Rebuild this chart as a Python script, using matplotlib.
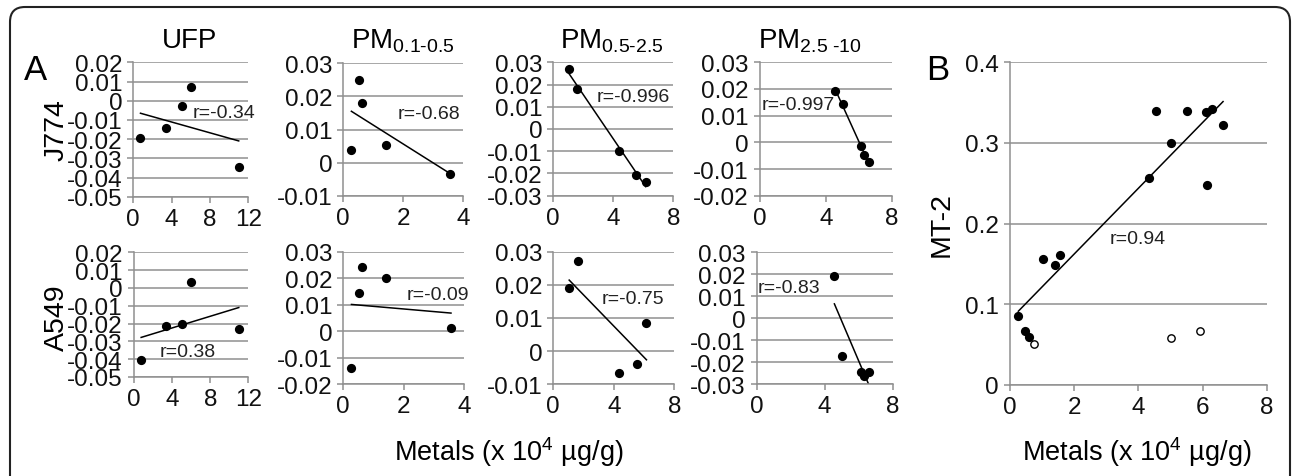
import numpy as np
import matplotlib
matplotlib.use('Agg')
import matplotlib.pyplot as plt
from matplotlib.patches import FancyBboxPatch
from matplotlib.ticker import FuncFormatter

plt.rcParams['font.family'] = ['Liberation Sans', 'DejaVu Sans']
plt.rcParams['mathtext.fontset'] = 'custom'
plt.rcParams['mathtext.rm'] = 'Liberation Sans'
plt.rcParams['mathtext.it'] = 'Liberation Sans:italic'

W, H = 1295, 477

# metals content (x 10^4 ug/g) per size fraction
ufp_x = [0.75, 3.38, 5.05, 6.0, 11.0]
pm01_x = [0.27, 0.51, 0.61, 1.42, 3.56]
pm05_x = [1.05, 1.6, 4.35, 5.52, 6.16]
pm25_x = [4.57, 5.03, 6.13, 6.31, 6.62]

# J774 response
j774_ufp = [-0.0193, -0.0144, -0.0029, 0.0071, -0.0347]
j774_pm01 = [0.0038, 0.0249, 0.0181, 0.0053, -0.0033]
j774_pm05 = [0.0269, 0.018, -0.0097, -0.0205, -0.0238]
j774_pm25 = [0.0193, 0.0145, -0.0014, -0.0049, -0.0073]

# A549 response
a549_ufp = [-0.0407, -0.0212, -0.0203, 0.0033, -0.0233]
a549_pm01 = [-0.014, 0.0143, 0.0241, 0.02, 0.0012]
a549_pm05 = [0.0189, 0.0273, -0.0067, -0.0039, 0.0084]
a549_pm25 = [0.0194, -0.0173, -0.0245, -0.026, -0.0242]

# panel B, MT-2
mt2_x = [0.26, 0.47, 0.58, 1.03, 1.39, 1.56, 4.34, 4.55, 5.02, 5.52, 6.12, 6.3, 6.15, 6.64]
mt2_y = [0.086, 0.067, 0.060, 0.156, 0.149, 0.161, 0.256, 0.340, 0.300, 0.340, 0.339, 0.342, 0.248, 0.322]
mt2_open_x = [0.76, 5.02, 5.92]
mt2_open_y = [0.051, 0.058, 0.067]

titles = ['UFP', r'PM$_{\mathrm{0.1\text{-}0.5}}$', r'PM$_{\mathrm{0.5\text{-}2.5}}$', r'PM$_{\mathrm{2.5\ \text{-}10}}$']
r_j774 = ['r=-0.34', 'r=-0.68', 'r=-0.996', 'r=-0.997']
r_a549 = ['r=0.38', 'r=-0.09', 'r=-0.75', 'r=-0.83']

GRID = '#8f8f8f'


def px(x0, y0, x1, y1):
    # pixel box (top-left origin) -> figure fraction rect
    return [x0 / W, 1 - y1 / H, (x1 - x0) / W, (y1 - y0) / H]


def style(ax, xlim, xticks, ylim, yticks):
    ax.set_xlim(*xlim)
    ax.set_ylim(*ylim)
    ax.set_xticks(xticks)
    ax.set_yticks(yticks)
    ax.yaxis.set_major_formatter(FuncFormatter(lambda v, p: '0' if abs(v) < 1e-9 else '%g' % round(v, 3)))
    ax.grid(axis='y', color=GRID, lw=1.1)
    ax.set_axisbelow(True)
    for s in ['top', 'right']:
        ax.spines[s].set_visible(False)
    for s in ['left', 'bottom']:
        ax.spines[s].set_color(GRID)
        ax.spines[s].set_linewidth(1.1)
    ax.tick_params(colors=GRID, labelcolor='#111111', length=4, width=1.1, labelsize=17.5)
    ax.tick_params(axis='y', pad=4)
    ax.tick_params(axis='x', pad=4)
    ax.patch.set_alpha(0)


def scatter_fit(ax, x, y, label, lx, ly):
    x = np.array(x)
    y = np.array(y)
    ax.scatter(x, y, s=44, color='black', zorder=3, lw=0)
    k, b = np.polyfit(x, y, 1)
    xs = np.array([x.min(), x.max()])
    ax.plot(xs, k * xs + b, color='black', lw=1.1, zorder=2)
    ax.text(lx, ly, label, fontsize=14, va='center', ha='left', color='#222222')


fig = plt.figure(figsize=(W / 100, H / 100), dpi=100)

# row 1 / row 2 axes boxes in pixels
boxes1 = [(133.3, 63.3, 248.3, 197.7), (343.3, 64.3, 463.3, 196.7),
          (553.3, 63.3, 673.3, 196.7), (760, 63.3, 891.7, 196.7)]
boxes2 = [(134, 253.3, 248.3, 378), (343.3, 252.7, 464.3, 385.3),
          (553.3, 252.7, 674.3, 385.3), (756.7, 253.3, 892.7, 385.3)]

xs_all = [ufp_x, pm01_x, pm05_x, pm25_x]
xlims = [(0, 12), (0, 4), (0, 8), (0, 8)]
xticks = [[0, 4, 8, 12], [0, 2, 4], [0, 4, 8], [0, 4, 8]]

j_y = [j774_ufp, j774_pm01, j774_pm05, j774_pm25]
j_ylim = [(-0.05, 0.02), (-0.01, 0.03), (-0.03, 0.03), (-0.02, 0.03)]
j_lab = [(6.2, -0.006), (1.82, 0.0149), (2.87, 0.0147), (0.1, 0.0143)]

a_y = [a549_ufp, a549_pm01, a549_pm05, a549_pm25]
a_ylim = [(-0.05, 0.02), (-0.02, 0.03), (-0.01, 0.03), (-0.03, 0.03)]
a_lab = [(2.7, -0.0355), (2.09, 0.0137), (3.2, 0.0159), (0.04, 0.0141)]

for i in range(4):
    ax = fig.add_axes(px(*boxes1[i]))
    lo, hi = j_ylim[i]
    style(ax, xlims[i], xticks[i], j_ylim[i], np.round(np.arange(lo, hi + 0.001, 0.01), 3))
    scatter_fit(ax, xs_all[i], j_y[i], r_j774[i], *j_lab[i])

    ax2 = fig.add_axes(px(*boxes2[i]))
    lo, hi = a_ylim[i]
    style(ax2, xlims[i], xticks[i], a_ylim[i], np.round(np.arange(lo, hi + 0.001, 0.01), 3))
    scatter_fit(ax2, xs_all[i], a_y[i], r_a549[i], *a_lab[i])

title_x = [190, 403, 612, 810]
for tx, t in zip(title_x, titles):
    fig.text(tx / W, 1 - 41 / H, t, fontsize=20, ha='center', va='center')

# panel B
axb = fig.add_axes(px(1010, 63.3, 1266.7, 386))
style(axb, (0, 8), [0, 2, 4, 6, 8], (0, 0.4), [0, 0.1, 0.2, 0.3, 0.4])
scatter_fit(axb, mt2_x, mt2_y, 'r=0.94', 3.1, 0.181)
axb.scatter(mt2_open_x, mt2_open_y, s=28, facecolor='white', edgecolor='black', lw=1.0, zorder=3)

# labels
fig.text(36 / W, 1 - 70 / H, 'A', fontsize=25, ha='center', va='center')
fig.text(938 / W, 1 - 70 / H, 'B', fontsize=25, ha='center', va='center')
fig.text(57 / W, 1 - 130 / H, 'J774', fontsize=20.5, rotation=90, ha='center', va='center')
fig.text(57 / W, 1 - 318 / H, 'A549', fontsize=20.5, rotation=90, ha='center', va='center')
fig.text(942 / W, 1 - 225 / H, 'MT-2', fontsize=20.5, rotation=90, ha='center', va='center')
fig.text(509 / W, 1 - 452 / H, r'Metals (x 10$^{\mathrm{4}}$ µg/g)', fontsize=19.5, ha='center', va='center')
fig.text(1137 / W, 1 - 452 / H, r'Metals (x 10$^{\mathrm{4}}$ µg/g)', fontsize=19.5, ha='center', va='center')

# rounded outer frame, open at the bottom edge
frame = FancyBboxPatch((0.1, -0.5), 12.8, 5.19, boxstyle='round,pad=0,rounding_size=0.15',
                       transform=fig.dpi_scale_trans, fill=False, edgecolor='#222222', lw=1.5)
fig.add_artist(frame)

fig.savefig('out.png', dpi=100)
plt.close('all')
